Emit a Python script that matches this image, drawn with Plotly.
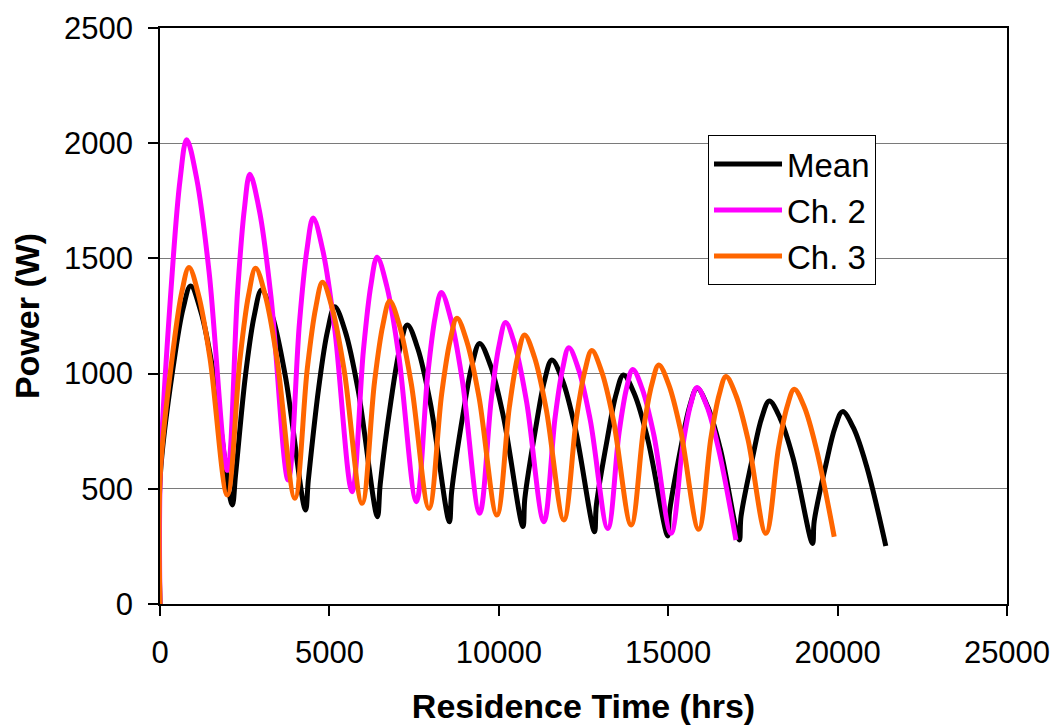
import plotly.graph_objects as go

# Residence time (hrs) and power (W)
mean_t = [0, 10, 412, 681, 904, 1211, 1579, 2132, 2230, 2521, 2781, 2997, 3321, 3710,
          4294, 4380, 4683, 4943, 5159, 5474, 5851, 6417, 6500, 6815, 7080, 7301,
          7611, 7982, 8540, 8610, 8942, 9211, 9434, 9754, 10137, 10712, 10770, 11096,
          11353, 11566, 11881, 12258, 12824, 12880, 13209, 13465, 13679, 14006, 14398,
          14986, 15040, 15376, 15636, 15852, 16164, 16538, 17099, 17150, 17497, 17762,
          17983, 18302, 18685, 19260, 19310, 19658, 19924, 20145, 20465, 20848, 21423]
mean_p = [0, 560, 1052, 1282, 1380, 1266, 1001, 430, 560, 990, 1251, 1363, 1248, 981,
          408, 540, 937, 1184, 1290, 1180, 926, 379, 520, 879, 1111, 1211,
          1108, 870, 357, 490, 822, 1038, 1131, 1036, 813, 336, 460, 770,
          972, 1059, 970, 761, 314, 430, 722, 912, 994, 910, 714,
          295, 400, 680, 859, 936, 857, 673, 278, 380, 640, 809,
          881, 807, 634, 263, 360, 607, 766, 835, 765, 602, 252]

ch2_t = [0, 10, 360, 593, 787, 1088, 1449, 1990, 2288, 2487, 2653, 2936, 3275, 3784,
         4116, 4337, 4521, 4808, 5153, 5670, 6002, 6224, 6408, 6698, 7045, 7567,
         7898, 8119, 8303, 8586, 8925, 9434, 9779, 10009, 10200, 10483, 10822, 11330,
         11662, 11883, 12067, 12355, 12700, 13217, 13549, 13770, 13954, 14237, 14576,
         15085, 15430, 15660, 15852, 16139, 16483, 17000]
ch2_p = [0, 570, 1437, 1842, 2015, 1842, 1441, 580, 1351, 1710, 1865, 1706, 1334, 538,
         1220, 1538, 1675, 1533, 1199, 487, 1098, 1383, 1505, 1377, 1081, 444,
         988, 1243, 1352, 1237, 969, 394, 890, 1123, 1222, 1119, 876, 357,
         810, 1021, 1112, 1018, 798, 328, 743, 936, 1018, 932, 734,
         307, 687, 864, 940, 860, 675, 278]

ch3_t = [0, 10, 390, 644, 855, 1138, 1477, 1985, 2361, 2612, 2821, 3111, 3458, 3980,
         4347, 4592, 4796, 5088, 5439, 5965, 6332, 6577, 6781, 7071, 7418, 7940,
         8312, 8560, 8766, 9061, 9414, 9945, 10312, 10557, 10761, 11051, 11398, 11920,
         12291, 12539, 12745, 13035, 13384, 13906, 14273, 14518, 14722, 15016, 15369,
         15899, 16262, 16504, 16706, 17001, 17354, 17885, 18261, 18511, 18720, 19015,
         19369, 19900]
ch3_p = [0, 570, 1105, 1354, 1460, 1341, 1065, 473, 1063, 1339, 1457, 1337, 1058, 459,
         1021, 1283, 1396, 1281, 1012, 437, 964, 1210, 1315, 1207, 955, 415,
         910, 1141, 1240, 1137, 899, 386, 855, 1074, 1168, 1072, 847, 365,
         806, 1011, 1100, 1009, 797, 343, 760, 954, 1037, 952, 752,
         324, 722, 908, 987, 905, 715, 307, 682, 857, 932, 856,
         676, 292]

series = [("Mean", mean_t, mean_p, "#000000"),
          ("Ch. 2", ch2_t, ch2_p, "#FF00FF"),
          ("Ch. 3", ch3_t, ch3_p, "#FF6600")]

x_ticks = [0, 5000, 10000, 15000, 20000, 25000]
y_ticks = [0, 500, 1000, 1500, 2000, 2500]

FONT = "Liberation Sans, Arial, sans-serif"

fig = go.Figure()
for name, t, p, col in series:
    fig.add_trace(go.Scatter(
        x=t, y=p, name=name, mode="lines", legendgroup=name,
        line=dict(color=col, width=5, shape="spline", smoothing=1.0),
    ))

# the page body adds an 8 px offset, so the figure is 8 px smaller each way
fig.update_layout(
    width=1050, height=717,
    margin=dict(l=152, r=51, t=20, b=121, autoexpand=False),
    paper_bgcolor="white", plot_bgcolor="white",
    font=dict(family=FONT, color="black", size=31),
    showlegend=True,
    legend=dict(
        x=0.647, y=0.814, xanchor="left", yanchor="top",
        bgcolor="white", bordercolor="black", borderwidth=1,
        font=dict(family=FONT, size=33, color="black"),
        tracegroupgap=9, traceorder="normal", itemwidth=68,
    ),
)

fig.update_xaxes(
    range=[0, 25000], tickvals=x_ticks, ticktext=[str(v) for v in x_ticks],
    showgrid=False, zeroline=False, automargin=False,
    showline=True, linecolor="black", linewidth=1.5, mirror=True,
    ticks="outside", ticklen=10, tickcolor="black", tickwidth=1.5,
    ticklabelstandoff=10,
    tickfont=dict(family=FONT, size=31, color="black"),
    title=dict(text="Residence Time (hrs)", standoff=27,
               font=dict(family=FONT, size=34, color="black", weight="bold")),
)
fig.update_yaxes(
    range=[0, 2500], tickvals=y_ticks, ticktext=[str(v) for v in y_ticks],
    showgrid=True, gridcolor="#7a7a7a", gridwidth=1, zeroline=False, automargin=False,
    showline=True, linecolor="black", linewidth=1.5, mirror=True,
    ticks="outside", ticklen=10, tickcolor="black", tickwidth=1.5,
    ticklabelstandoff=9,
    tickfont=dict(family=FONT, size=31, color="black"),
    title=dict(text="Power (W)", standoff=14,
               font=dict(family=FONT, size=34, color="black", weight="bold")),
)

fig.write_html("out.html")
